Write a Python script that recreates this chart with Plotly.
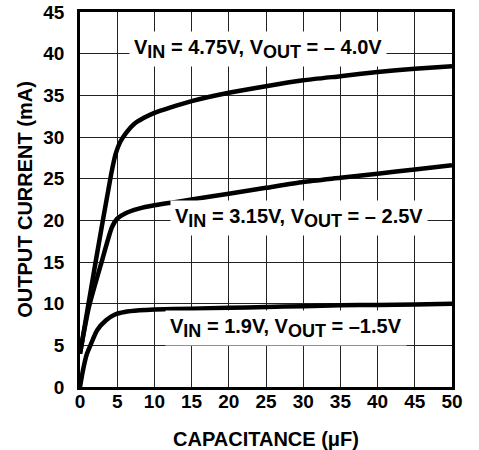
import plotly.graph_objects as go

# Capacitance (uF) and output current (mA) for each curve
cap_475 = [0, 2.1, 4.2, 4.8, 5.4, 6.2, 7.2, 8.6, 10, 12, 15, 20, 25, 30, 35, 40, 45, 50]
cur_475 = [4, 15, 25.6, 28.0, 29.4, 30.5, 31.5, 32.3, 32.9, 33.5, 34.3, 35.3, 36.1, 36.8, 37.3, 37.8, 38.2, 38.5]

cap_315 = [0, 1.2, 2.9, 4.3, 5.0, 6.0, 7.9, 10, 12.5, 15, 20, 25, 30, 35, 40, 45, 50]
cur_315 = [4, 9.6, 15, 19.2, 20.2, 20.8, 21.4, 21.8, 22.15, 22.5, 23.2, 23.9, 24.6, 25.1, 25.6, 26.1, 26.6]

cap_19 = [0, 0.4, 0.9, 1.4, 2.3, 3.5, 4.7, 6, 8, 10, 15, 20, 25, 30, 35, 40, 45, 50]
cur_19 = [0, 2, 3.9, 5, 6.8, 8, 8.7, 9.0, 9.2, 9.3, 9.4, 9.5, 9.6, 9.7, 9.8, 9.85, 9.9, 10.0]

x_ticks = [0, 5, 10, 15, 20, 25, 30, 35, 40, 45, 50]
y_ticks = [0, 5, 10, 15, 20, 25, 30, 35, 40, 45]

labels = [
    ("4.75V", "– 4.0V"),
    ("3.15V", "– 2.5V"),
    ("1.9V", "–1.5V"),
]
label_pos = [(23.9, 40.6), (29.5, 20.3), (27.7, 7.1)]

FONT = "Liberation Sans, Arial, sans-serif"
SUB = '<sub><span style="font-size:18px">{}</span></sub>'

fig = go.Figure()
for xs, ys in [(cap_475, cur_475), (cap_315, cur_315), (cap_19, cur_19)]:
    fig.add_trace(go.Scatter(x=xs, y=ys, mode="lines",
                             line=dict(color="black", width=4.5, shape="spline", smoothing=0.6),
                             showlegend=False, hoverinfo="skip"))

for (vin, vout), (ax, ay) in zip(labels, label_pos):
    txt = "<b>V" + SUB.format("IN") + " = " + vin + ", V" + SUB.format("OUT") + " = " + vout + "</b>"
    fig.add_annotation(x=ax, y=ay, xref="x", yref="y", text=txt,
                       showarrow=False, bgcolor="white", borderpad=4,
                       font=dict(family=FONT, size=20, color="black"))

axis_common = dict(showgrid=True, gridcolor="#222", gridwidth=1, zeroline=False,
                   showline=True, linecolor="black", linewidth=2.5, mirror=True,
                   automargin=False,
                   ticks="", tickfont=dict(family=FONT, size=19, color="black", weight="bold"))

fig.update_xaxes(range=[0, 50], tickvals=x_ticks, ticktext=[str(v) for v in x_ticks],
                 ticklabelstandoff=-5,
                 title=dict(text="<b>CAPACITANCE (μF)</b>", standoff=23,
                            font=dict(family=FONT, size=20, color="black")),
                 **axis_common)
fig.update_yaxes(range=[0, 45], tickvals=y_ticks, ticktext=[str(v) for v in y_ticks],
                 ticklabelstandoff=9,
                 title=dict(text="<b>OUTPUT CURRENT (mA)</b>", standoff=6,
                            font=dict(family=FONT, size=20, color="black")),
                 **axis_common)

fig.update_layout(width=479, height=450, margin=dict(l=80, r=27, t=12, b=63),
                  plot_bgcolor="white", paper_bgcolor="white",
                  font=dict(family=FONT, color="black"))

fig.write_html("out.html", config={"displayModeBar": False},
               post_script="document.body.style.margin='0';")
